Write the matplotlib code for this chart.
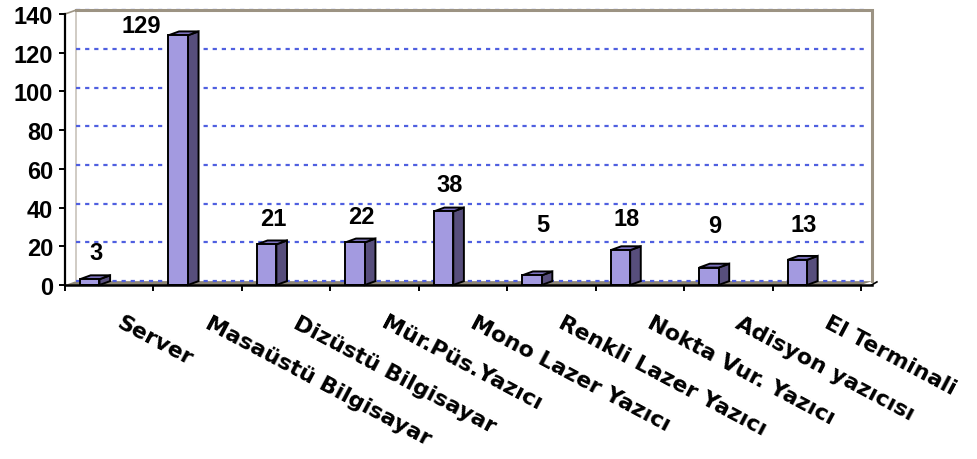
import matplotlib
matplotlib.use("Agg")
import matplotlib.pyplot as plt
from matplotlib.patches import Polygon, Rectangle

# ---- data ----
categories = ["Server", "Masaüstü Bilgisayar", "Dizüstü Bilgisayar", "Mür.Püs.Yazıcı",
              "Mono Lazer Yazıcı", "Renkli Lazer Yazıcı", "Nokta Vur. Yazıcı",
              "Adisyon yazıcısı", "El Terminali"]
values = [3, 129, 21, 22, 38, 5, 18, 9, 13]
yticks = [0, 20, 40, 60, 80, 100, 120, 140]

# ---- style / layout ----
FRONT = "#A39AE0"
SIDE = "#574E7C"
TOP = "#7C72BE"
GRID = "#4F5FE0"
WALL = "#9C9383"
FLOOR = "#8E8677"
NUMFONT = "Liberation Sans"
WALL_DX, WALL_DY = 0.125, 2.0   # depth of back wall (data units)
BAR_DX, BAR_DY = 0.12, 2.0      # depth of bars
BAR_L, BAR_W = -0.33, 0.22      # front face offset from category centre
label_dy = [14, 5.3, 13.6, 13.6, 14, 26, 16.6, 21.5, 18.5]
label_dx = [-0.15, -0.64, -0.15, -0.15, -0.15, -0.1, -0.15, -0.15, -0.15]

fig = plt.figure(figsize=(9.77, 4.6), dpi=100)
ax = fig.add_axes([65 / 977, 174 / 460, 796 / 977, 271 / 460])
n = len(categories)
ax.set_xlim(0, n)
ax.set_ylim(0, 140)
for s in ["top", "right", "bottom"]:
    ax.spines[s].set_visible(False)
ax.spines["left"].set_linewidth(1.6)
ax.spines["left"].set_zorder(6)

# floor
ax.add_patch(Polygon([(0, 0), (n, 0), (n + WALL_DX, WALL_DY), (WALL_DX, WALL_DY)],
                     closed=True, facecolor=FLOOR, edgecolor="none", zorder=1, clip_on=False))
# gridlines on back wall
for v in yticks:
    ax.plot([WALL_DX, n + WALL_DX - 0.05], [v + WALL_DY, v + WALL_DY], color=GRID,
            lw=1.6, linestyle=(0, (1.9, 2.2)), zorder=2, clip_on=False)
# back wall border
ax.plot([WALL_DX, n + WALL_DX, n + WALL_DX], [140 + WALL_DY, 140 + WALL_DY, WALL_DY],
        color=WALL, lw=2.2, zorder=3, clip_on=False, solid_joinstyle="miter")
ax.plot([WALL_DX, WALL_DX], [WALL_DY, 140 + WALL_DY], color="#C8C2BA", lw=1.2,
        zorder=1.5, clip_on=False)
ax.plot([0, WALL_DX], [140, 140 + WALL_DY], color=WALL, lw=1.2, zorder=3, clip_on=False)

# x axis line with depth tick
ax.plot([0, n + 0.12], [0, 0], color="black", lw=1.8, zorder=6, clip_on=False)
ax.plot([n + 0.12, n + 0.18], [0, 1.6], color="black", lw=1.2, zorder=6, clip_on=False)

# ticks
ax.set_yticks(yticks)
ax.set_yticklabels([str(t) for t in yticks], fontfamily=NUMFONT, fontweight="bold",
                   fontsize=17)
ax.tick_params(axis="y", direction="out", length=4.5, width=1.4, pad=4)
ax.set_xticks(range(0, n + 1))
ax.set_xticklabels([])
ax.tick_params(axis="x", direction="out", length=4.5, width=1.4)

# bars
for i, v in enumerate(values):
    c = i + 0.5
    x0 = c + BAR_L
    x1 = x0 + BAR_W
    kw = dict(edgecolor="black", lw=1.4, joinstyle="miter", zorder=5, clip_on=False)
    ax.add_patch(Polygon([(x1, 0), (x1 + BAR_DX, BAR_DY), (x1 + BAR_DX, v + BAR_DY), (x1, v)],
                         closed=True, facecolor=SIDE, **kw))
    ax.add_patch(Polygon([(x0, v), (x1, v), (x1 + BAR_DX, v + BAR_DY), (x0 + BAR_DX, v + BAR_DY)],
                         closed=True, facecolor=TOP, **kw))
    ax.add_patch(Rectangle((x0, 0), BAR_W, v, facecolor=FRONT, **kw))
    ax.text(c + label_dx[i], v + label_dy[i], str(v), ha="center", va="center",
            fontfamily=NUMFONT, fontweight="bold", fontsize=17, zorder=7)

# category labels
for i, name in enumerate(categories):
    ax.text(i + 0.5 + 0.15, -14.0, name, rotation=-28, rotation_mode="anchor",
            ha="left", va="top", fontfamily="DejaVu Sans", fontweight="bold",
            fontsize=16, clip_on=False)

fig.savefig("out.png", dpi=100)
